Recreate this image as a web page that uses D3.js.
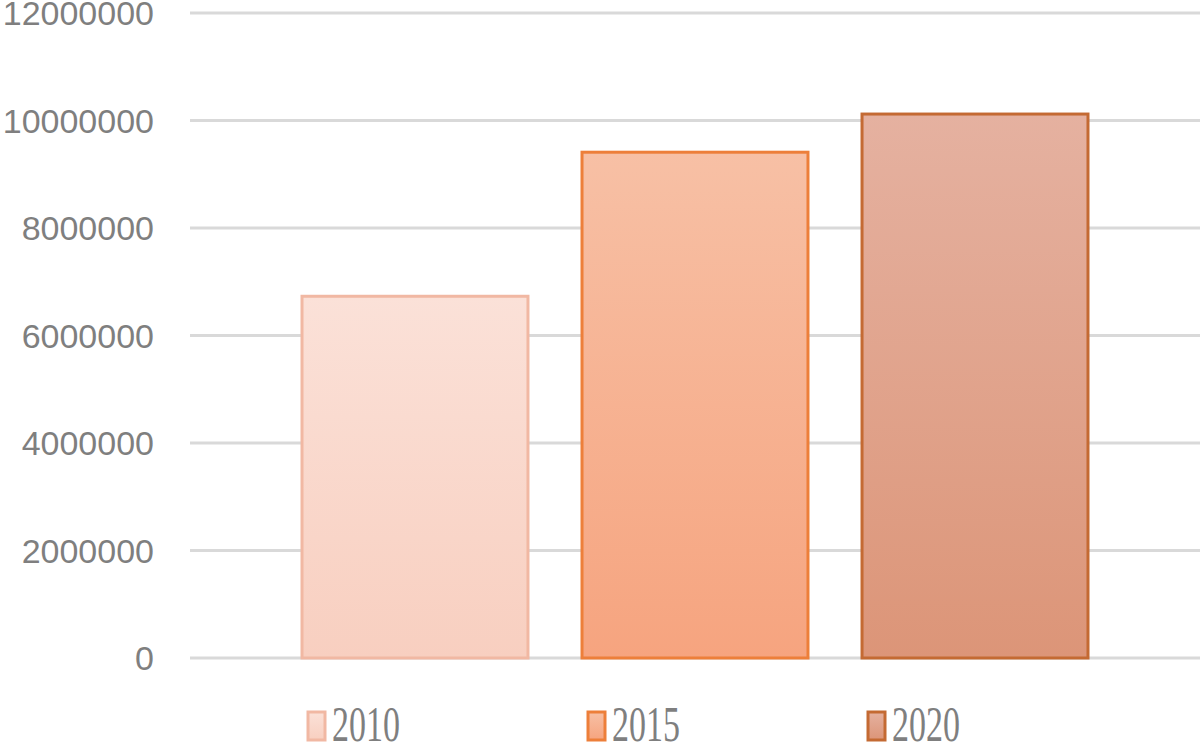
<!DOCTYPE html>
<html>
<head>
<meta charset="utf-8">
<script src="https://cdn.jsdelivr.net/npm/d3@7"></script>
<style>
  body { margin: 0; background: #fff; }
  .axis text { font-family: "Liberation Sans", Arial, sans-serif; fill: #7f7f7f; }
</style>
</head>
<body>
<svg id="chart" width="1200" height="743"></svg>
<script>
const years = ["2010", "2015", "2020"];
const values = [6730000, 9410000, 10120000];
const yTicks = [0, 2000000, 4000000, 6000000, 8000000, 10000000, 12000000];

const fillTop = ["#fbe1d8", "#f7c0a5", "#e5b1a0"];
const fillBottom = ["#f8cfc0", "#f6a47f", "#dc9578"];
const strokes = ["#f1b8a3", "#ed7f3a", "#c46a33"];

const svg = d3.select("#chart");
const plotLeft = 190, plotRight = 1200, plotTop = 13, plotBottom = 658;

const x = d3.scaleBand()
  .domain(years)
  .range([plotLeft, plotRight])
  .paddingInner(0.193)
  .paddingOuter(0.4);

const y = d3.scaleLinear()
  .domain([0, 12000000])
  .range([plotBottom, plotTop]);

// gradients
const defs = svg.append("defs");
years.forEach((yr, i) => {
  const g = defs.append("linearGradient")
    .attr("id", "grad" + i)
    .attr("x1", 0).attr("y1", 0).attr("x2", 0).attr("y2", 1);
  g.append("stop").attr("offset", "0%").attr("stop-color", fillTop[i]);
  g.append("stop").attr("offset", "100%").attr("stop-color", fillBottom[i]);
});

// gridlines
svg.append("g")
  .selectAll("line")
  .data(yTicks)
  .enter().append("line")
  .attr("x1", plotLeft).attr("x2", plotRight)
  .attr("y1", d => y(d)).attr("y2", d => y(d))
  .attr("stroke", "#d9d9d9")
  .attr("stroke-width", 3);

// y axis labels
const yAxis = svg.append("g")
  .attr("class", "axis")
  .attr("transform", "translate(" + (plotLeft - 36) + ",0)")
  .call(d3.axisLeft(y).tickValues(yTicks).tickSize(0).tickPadding(0).tickFormat(d3.format("d")));
yAxis.select(".domain").remove();
yAxis.selectAll("text").attr("font-size", 34).attr("dy", "0.34em");

// bars
svg.append("g")
  .selectAll("rect")
  .data(values)
  .enter().append("rect")
  .attr("x", (d, i) => x(years[i]))
  .attr("y", d => y(d))
  .attr("width", x.bandwidth())
  .attr("height", d => y(0) - y(d))
  .attr("fill", (d, i) => "url(#grad" + i + ")")
  .attr("stroke", (d, i) => strokes[i])
  .attr("stroke-width", 3);

// legend
const legendX = [308, 588, 868];
const legend = svg.append("g")
  .selectAll("g")
  .data(years)
  .enter().append("g")
  .attr("transform", (d, i) => "translate(" + legendX[i] + ",712)");

legend.append("rect")
  .attr("width", 17).attr("height", 28)
  .attr("fill", (d, i) => "url(#grad" + i + ")")
  .attr("stroke", (d, i) => strokes[i])
  .attr("stroke-width", 3);

legend.append("text")
  .attr("transform", "translate(24,29) scale(1,1.5)")
  .attr("font-family", "'Liberation Serif', 'Times New Roman', serif")
  .attr("font-size", 34)
  .attr("fill", "#7f7f7f")
  .text(d => d);
</script>
</body>
</html>
